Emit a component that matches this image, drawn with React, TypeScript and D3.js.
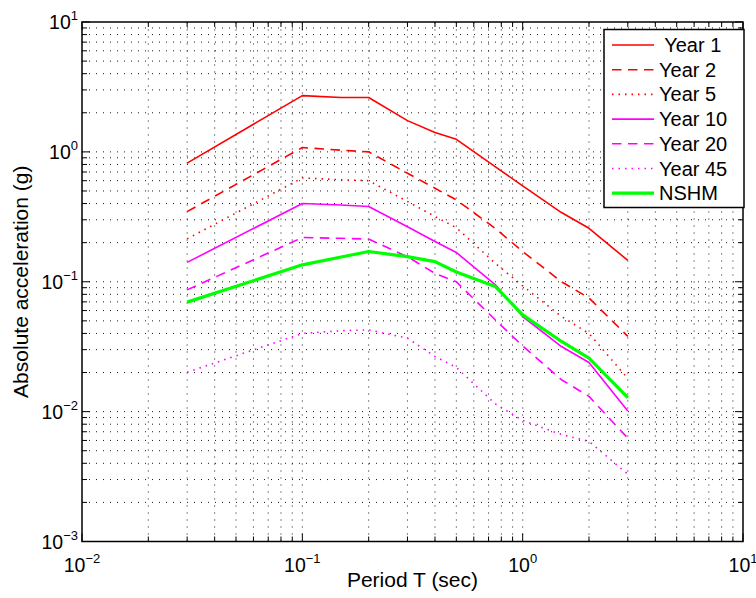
import * as d3 from 'd3';
import React from 'react';

// periods (sec) where the spectra were sampled
const periods = [0.03, 0.1, 0.15, 0.2, 0.3, 0.4, 0.5, 0.75, 1, 1.5, 2, 3];

// spectral acceleration (g)
const year1 = [0.82, 2.71, 2.62, 2.62, 1.74, 1.41, 1.25, 0.77, 0.547, 0.341, 0.258, 0.146];
const year2 = [0.347, 1.08, 1.03, 1.0, 0.685, 0.525, 0.427, 0.258, 0.171, 0.1, 0.075, 0.038];
const year5 = [0.214, 0.63, 0.61, 0.6, 0.415, 0.318, 0.261, 0.139, 0.093, 0.054, 0.04, 0.018];
const year10 = [0.141, 0.4, 0.39, 0.38, 0.265, 0.204, 0.168, 0.095, 0.054, 0.0317, 0.0239, 0.0101];
const year20 = [0.0866, 0.219, 0.216, 0.213, 0.156, 0.116, 0.1, 0.051, 0.032, 0.0176, 0.0131, 0.00625];
const year45 = [0.0201, 0.04, 0.042, 0.0426, 0.0368, 0.0266, 0.0219, 0.0115, 0.00855, 0.00667, 0.0059, 0.0033];
const nshm = [0.0697, 0.135, 0.155, 0.171, 0.156, 0.143, 0.119, 0.092, 0.0556, 0.0347, 0.0258, 0.0128];

const seriesNames = [' Year 1', 'Year 2', 'Year 5', 'Year 10', 'Year 20', 'Year 45', 'NSHM'];
const seriesValues = [year1, year2, year5, year10, year20, year45, nshm];
const seriesColors = ['#ff0000', '#ff0000', '#ff0000', '#ff00ff', '#ff00ff', '#ff00ff', '#00ff00'];
const seriesDash = ['none', '9.5,6.5', '1.5,5', 'none', '9.5,6.5', '1.5,5', 'none'];
const seriesWidth = [1.6, 1.6, 1.6, 1.6, 1.6, 1.6, 3.2];

const xDecades = [-2, -1, 0, 1];
const yDecades = [-3, -2, -1, 0, 1];

const W = 756;
const H = 598;
const margin = { left: 82, right: 13, top: 22, bottom: 56.5 };
const font = 'Helvetica, Arial, "Liberation Sans", sans-serif';

const expLabel = (d: number) => String(d).replace('-', '\u2212');

export default function App() {
  const x = d3
    .scaleLog()
    .domain([1e-2, 1e1])
    .range([margin.left, W - margin.right]);
  const y = d3
    .scaleLog()
    .domain([1e-3, 1e1])
    .range([H - margin.bottom, margin.top]);

  const [x0, x1] = x.range();
  const [y0, y1] = y.range();

  // major + minor tick values (1..9 per decade)
  const minorOf = (decades: number[]) => {
    const out: { v: number; major: boolean }[] = [];
    decades.forEach((d, i) => {
      if (i === decades.length - 1) {
        out.push({ v: Math.pow(10, d), major: true });
        return;
      }
      for (let k = 1; k < 10; k++) out.push({ v: k * Math.pow(10, d), major: k === 1 });
    });
    return out;
  };
  const xTicks = minorOf(xDecades);
  const yTicks = minorOf(yDecades);

  const line = d3
    .line<[number, number]>()
    .x((d) => x(d[0]))
    .y((d) => y(d[1]));

  const legendX = 604;
  const legendTop = 29.5;
  const rowH = 24.7;

  return (
    <svg
      width={W}
      height={H}
      style={{ position: 'absolute', left: 0, top: 0, background: '#fff' }}
      fontFamily={font}
    >
      {/* grid */}
      <g stroke="#000" strokeWidth={1} strokeDasharray="1,6" opacity={0.9}>
        {xTicks
          .filter((t) => t.v > 1e-2 && t.v < 1e1)
          .map((t, i) => (
            <line key={'gx' + i} x1={x(t.v)} x2={x(t.v)} y1={y0} y2={y1} />
          ))}
        {yTicks
          .filter((t) => t.v > 1e-3 && t.v < 1e1)
          .map((t, i) => (
            <line key={'gy' + i} x1={x0} x2={x1} y1={y(t.v)} y2={y(t.v)} />
          ))}
      </g>

      {/* tick marks on all four sides */}
      <g stroke="#000" strokeWidth={1}>
        {xTicks.map((t, i) => {
          const len = t.major ? 8 : 5;
          return (
            <g key={'tx' + i}>
              <line x1={x(t.v)} x2={x(t.v)} y1={y0} y2={y0 - len} />
              <line x1={x(t.v)} x2={x(t.v)} y1={y1} y2={y1 + len} />
            </g>
          );
        })}
        {yTicks.map((t, i) => {
          const len = t.major ? 8 : 5;
          return (
            <g key={'ty' + i}>
              <line x1={x0} x2={x0 + len} y1={y(t.v)} y2={y(t.v)} />
              <line x1={x1} x2={x1 - len} y1={y(t.v)} y2={y(t.v)} />
            </g>
          );
        })}
      </g>

      {/* data */}
      {seriesValues.map((vals, i) => (
        <path
          key={'s' + i}
          d={line(periods.map((p, j) => [p, vals[j]]) as [number, number][]) || ''}
          fill="none"
          stroke={seriesColors[i]}
          strokeWidth={seriesWidth[i]}
          strokeDasharray={seriesDash[i]}
          strokeLinejoin="round"
        />
      ))}

      {/* axes box */}
      <rect x={x0} y={y1} width={x1 - x0} height={y0 - y1} fill="none" stroke="#000" strokeWidth={1.5} />

      {/* x tick labels */}
      {xDecades.map((d) => (
        <text key={'xl' + d} x={x(Math.pow(10, d))} y={571.5} textAnchor="middle" fontSize={19.5}>
          10
          <tspan dy={-9} fontSize={13}>
            {expLabel(d)}
          </tspan>
        </text>
      ))}

      {/* y tick labels */}
      {yDecades.map((d) => (
        <text key={'yl' + d} x={78} y={y(Math.pow(10, d)) + 7} textAnchor="end" fontSize={19.5}>
          10
          <tspan dy={-9} fontSize={13}>
            {expLabel(d)}
          </tspan>
        </text>
      ))}

      {/* axis titles */}
      <text x={(x0 + x1) / 2} y={587} textAnchor="middle" fontSize={21}>
        Period T (sec)
      </text>
      <text
        transform={`translate(28,${(y0 + y1) / 2}) rotate(-90)`}
        textAnchor="middle"
        fontSize={21}
      >
        Absolute acceleration (g)
      </text>

      {/* legend */}
      <rect x={legendX} y={legendTop} width={140} height={178} fill="#fff" stroke="#000" strokeWidth={1.5} />
      {seriesNames.map((name, i) => {
        const cy = 45 + i * rowH;
        return (
          <g key={'lg' + i}>
            <line
              x1={612}
              x2={654}
              y1={cy}
              y2={cy}
              stroke={seriesColors[i]}
              strokeWidth={seriesWidth[i]}
              strokeDasharray={seriesDash[i]}
            />
            <text x={659} y={cy + 7} fontSize={20} style={{ whiteSpace: 'pre' }}>
              {name}
            </text>
          </g>
        );
      })}
    </svg>
  );
}
